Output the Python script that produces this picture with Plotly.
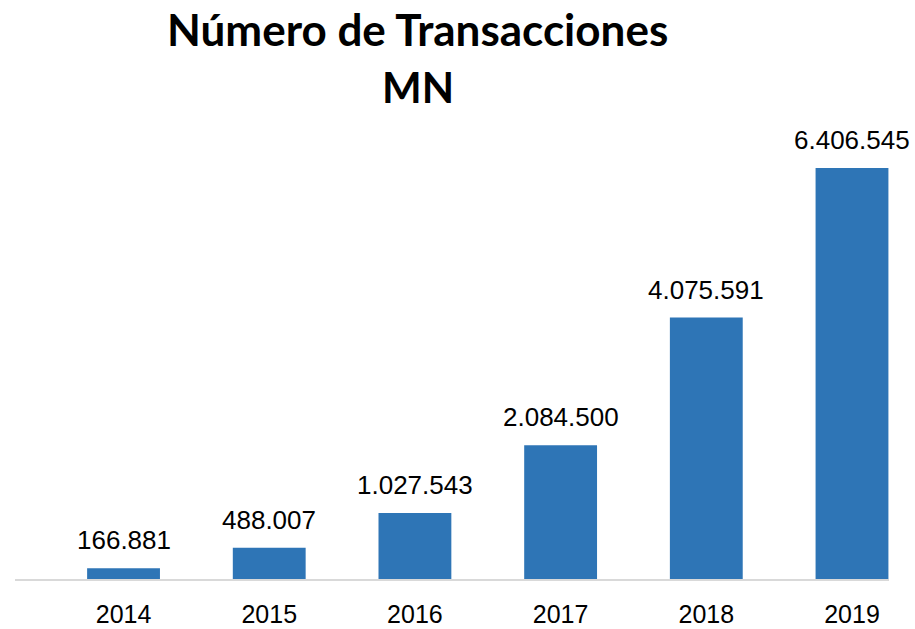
import plotly.graph_objects as go

years = ["2014", "2015", "2016", "2017", "2018", "2019"]
transacciones = [166881, 488007, 1027543, 2084500, 4075591, 6406545]
etiquetas = ["166.881", "488.007", "1.027.543", "2.084.500", "4.075.591", "6.406.545"]
titulo = ["Número de Transacciones", "MN"]

W, H = 915, 629
L, R, T, B = 15, 26, 130, 50
PH = H - T - B

fig = go.Figure()
fig.add_trace(go.Bar(
    x=list(range(len(years))), y=transacciones,
    width=0.5, marker=dict(color="#2E75B6", line=dict(width=0)),
    hoverinfo="skip",
))
for i, (v, t) in enumerate(zip(transacciones, etiquetas)):
    fig.add_annotation(x=i, y=v, text=t, showarrow=False, xref="x", yref="y",
                       yanchor="bottom", yshift=11,
                       font=dict(family="Liberation Sans, Arial", size=26, color="#000000"))

for line, ypix, fs in zip(titulo, [29, 87], [44, 42]):
    fig.add_annotation(text="<b>" + line + "</b>", showarrow=False,
                       xref="paper", yref="paper",
                       x=(417.5 - L) / (W - L - R), xanchor="center",
                       y=1 + (T - ypix) / PH, yanchor="middle",
                       font=dict(family="Lato, Open Sans", size=fs, color="#000000"))

fig.update_layout(
    width=W, height=H,
    paper_bgcolor="white", plot_bgcolor="white",
    margin=dict(l=L, r=R, t=T, b=B, autoexpand=False),
    showlegend=False,
    xaxis=dict(range=[-0.745, 5.254], tickmode="array", tickvals=list(range(len(years))),
               ticktext=years, showgrid=False, zeroline=False, automargin=False,
               showline=True, linecolor="#D9D9D9", linewidth=2, ticks="",
               ticklabelstandoff=12,
               tickfont=dict(family="Liberation Sans, Arial", size=25, color="#000000")),
    yaxis=dict(range=[0, 7.0e6], visible=False, showgrid=False, zeroline=False,
               automargin=False),
)
fig.write_html("out.html", config={"displayModeBar": False},
               post_script="document.body.style.margin='0';document.body.style.overflow='hidden';")
